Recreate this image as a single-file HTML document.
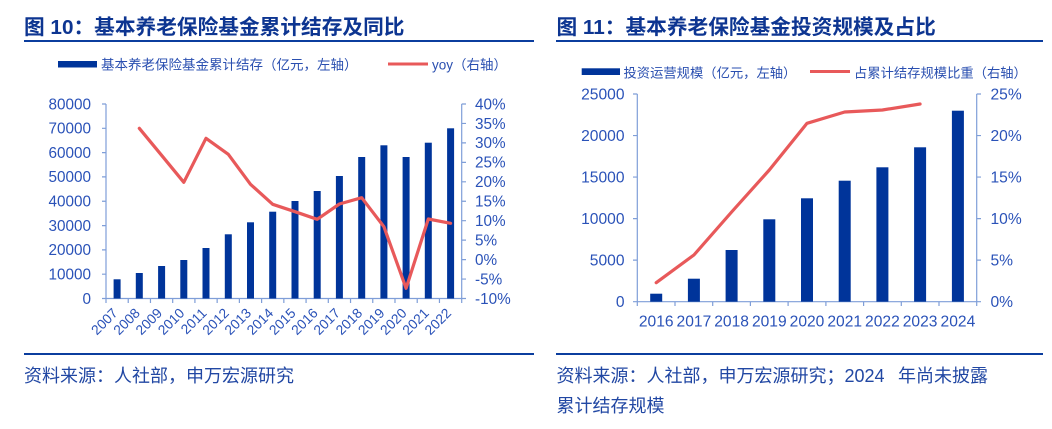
<!DOCTYPE html>
<html>
<head>
<meta charset="utf-8">
<style>
html,body{margin:0;padding:0;background:#fff;}
svg{display:block;}
text{font-family:"Liberation Sans","Noto Sans CJK SC",sans-serif;}
</style>
</head>
<body>
<svg width="1052" height="429" viewBox="0 0 1052 429" xmlns="http://www.w3.org/2000/svg">
<!-- Titles -->
<text x="24" y="34" font-size="20.7" font-weight="bold" fill="#0D3591">图 10：基本养老保险基金累计结存及同比</text>
<text x="556.5" y="34" font-size="20.7" font-weight="bold" fill="#0D3591">图 11：基本养老保险基金投资规模及占比</text>
<rect x="24" y="40" width="510" height="2" fill="#0B3D9E"/>
<rect x="556" y="40" width="487" height="2" fill="#0B3D9E"/>
<rect x="24" y="353" width="510" height="2" fill="#0B3D9E"/>
<rect x="556" y="353" width="487" height="2" fill="#0B3D9E"/>

<!-- Sources -->
<text x="24" y="382" font-size="18" fill="#2147A3">资料来源：人社部，申万宏源研究</text>
<text x="556.5" y="382" font-size="18" fill="#2147A3">资料来源：人社部，申万宏源研究；2024<tspan x="898">年尚未披露</tspan></text>
<text x="556.5" y="412" font-size="18" fill="#2147A3">累计结存规模</text>

<!-- LEFT CHART legend -->
<rect x="58" y="61" width="39" height="6.5" fill="#00349A"/>
<text x="101" y="69.5" font-size="13.5" fill="#2A4FB0">基本养老保险基金累计结存（亿元，左轴）</text>
<line x1="388" y1="64" x2="428" y2="64" stroke="#E8595A" stroke-width="3"/>
<text x="432" y="69.5" font-size="13.5" fill="#2A4FB0">yoy（右轴）</text>

<!-- LEFT CHART axes -->
<g stroke="#7F9ED8" stroke-width="1.2" fill="none">
  <line x1="106" y1="104" x2="106" y2="298.5"/>
  <line x1="461.7" y1="104" x2="461.7" y2="298.5"/>
  <line x1="106" y1="298.5" x2="461.7" y2="298.5"/>
  <path d="M102 104H106M102 128.3H106M102 152.6H106M102 176.9H106M102 201.25H106M102 225.6H106M102 249.9H106M102 274.2H106M102 298.5H106"/>
  <path d="M461.7 104H466M461.7 123.45H466M461.7 142.9H466M461.7 162.35H466M461.7 181.8H466M461.7 201.25H466M461.7 220.7H466M461.7 240.15H466M461.7 259.6H466M461.7 279.05H466M461.7 298.5H466"/>
  <path d="M106 298.5V303M128.23 298.5V303M150.46 298.5V303M172.69 298.5V303M194.92 298.5V303M217.15 298.5V303M239.38 298.5V303M261.61 298.5V303M283.84 298.5V303M306.07 298.5V303M328.3 298.5V303M350.53 298.5V303M372.76 298.5V303M394.99 298.5V303M417.22 298.5V303M439.45 298.5V303M461.7 298.5V303"/>
</g>
<g font-size="15.3" fill="#2A52B8" text-anchor="end">
  <text x="91" y="109.3">80000</text>
  <text x="91" y="133.6">70000</text>
  <text x="91" y="157.9">60000</text>
  <text x="91" y="182.2">50000</text>
  <text x="91" y="206.5">40000</text>
  <text x="91" y="230.9">30000</text>
  <text x="91" y="255.2">20000</text>
  <text x="91" y="279.5">10000</text>
  <text x="91" y="303.8">0</text>
</g>
<g font-size="15.3" fill="#2A52B8">
  <text x="475" y="109.3">40%</text>
  <text x="475" y="128.8">35%</text>
  <text x="475" y="148.2">30%</text>
  <text x="475" y="167.7">25%</text>
  <text x="475" y="187.1">20%</text>
  <text x="475" y="206.5">15%</text>
  <text x="475" y="226">10%</text>
  <text x="475" y="245.5">5%</text>
  <text x="475" y="264.9">0%</text>
  <text x="475" y="284.3">-5%</text>
  <text x="475" y="303.8">-10%</text>
</g>
<g font-size="13.8" fill="#2A52B8" text-anchor="end">
  <text transform="translate(118.6,314) rotate(-45)">2007</text>
  <text transform="translate(140.8,314) rotate(-45)">2008</text>
  <text transform="translate(163.1,314) rotate(-45)">2009</text>
  <text transform="translate(185.3,314) rotate(-45)">2010</text>
  <text transform="translate(207.5,314) rotate(-45)">2011</text>
  <text transform="translate(229.8,314) rotate(-45)">2012</text>
  <text transform="translate(252,314) rotate(-45)">2013</text>
  <text transform="translate(274.2,314) rotate(-45)">2014</text>
  <text transform="translate(296.5,314) rotate(-45)">2015</text>
  <text transform="translate(318.7,314) rotate(-45)">2016</text>
  <text transform="translate(340.9,314) rotate(-45)">2017</text>
  <text transform="translate(363.2,314) rotate(-45)">2018</text>
  <text transform="translate(385.4,314) rotate(-45)">2019</text>
  <text transform="translate(407.6,314) rotate(-45)">2020</text>
  <text transform="translate(429.8,314) rotate(-45)">2021</text>
  <text transform="translate(452.1,314) rotate(-45)">2022</text>
</g>
<g fill="#00349A">
  <rect x="113.6" y="279.3" width="7" height="19.2"/>
  <rect x="135.8" y="273" width="7" height="25.5"/>
  <rect x="158.1" y="266" width="7" height="32.5"/>
  <rect x="180.3" y="260" width="7" height="38.5"/>
  <rect x="202.5" y="248" width="7" height="50.5"/>
  <rect x="224.8" y="234.3" width="7" height="64.2"/>
  <rect x="247" y="222.3" width="7" height="76.2"/>
  <rect x="269.2" y="211.7" width="7" height="86.8"/>
  <rect x="291.5" y="201" width="7" height="97.5"/>
  <rect x="313.7" y="191" width="7" height="107.5"/>
  <rect x="335.9" y="176" width="7" height="122.5"/>
  <rect x="358.2" y="157" width="7" height="141.5"/>
  <rect x="380.4" y="145.3" width="7" height="153.2"/>
  <rect x="402.6" y="157" width="7" height="141.5"/>
  <rect x="424.8" y="142.7" width="7" height="155.8"/>
  <rect x="447.1" y="128.3" width="7" height="170.2"/>
</g>
<polyline fill="none" stroke="#E8595A" stroke-width="3.2" stroke-linejoin="round" stroke-linecap="round"
  points="139.3,128.3 161.6,155.3 183.8,182.3 206,138.3 228.3,154.3 250.5,184.3 272.7,204.3 295,211.7 317.2,219.3 339.4,204 361.7,197.7 383.9,226.7 406.1,288.3 428.3,219 450.6,223.3"/>

<!-- RIGHT CHART legend -->
<rect x="581.7" y="68.3" width="38.3" height="6.7" fill="#00349A"/>
<text x="623.5" y="77.5" font-size="13.3" fill="#2A4FB0">投资运营规模（亿元，左轴）</text>
<line x1="810" y1="71.5" x2="850" y2="71.5" stroke="#E8595A" stroke-width="3"/>
<text x="854" y="77.5" font-size="13.3" fill="#2A4FB0">占累计结存规模比重（右轴）</text>

<g stroke="#7F9ED8" stroke-width="1.2" fill="none">
  <line x1="637.3" y1="94" x2="637.3" y2="301.7"/>
  <line x1="976.7" y1="94" x2="976.7" y2="301.7"/>
  <line x1="637.3" y1="301.7" x2="976.7" y2="301.7"/>
  <path d="M633 94H637.3M633 135.54H637.3M633 177.08H637.3M633 218.62H637.3M633 260.16H637.3M633 301.7H637.3"/>
  <path d="M976.7 94H981M976.7 135.54H981M976.7 177.08H981M976.7 218.62H981M976.7 260.16H981M976.7 301.7H981"/>
  <path d="M637.3 301.7V306M675 301.7V306M712.7 301.7V306M750.4 301.7V306M788.1 301.7V306M825.9 301.7V306M863.6 301.7V306M901.3 301.7V306M939 301.7V306M976.7 301.7V306"/>
</g>
<g font-size="15.6" fill="#2A52B8" text-anchor="end">
  <text x="624.5" y="99.5">25000</text>
  <text x="624.5" y="141">20000</text>
  <text x="624.5" y="182.6">15000</text>
  <text x="624.5" y="224.1">10000</text>
  <text x="624.5" y="265.7">5000</text>
  <text x="624.5" y="307.2">0</text>
</g>
<g font-size="15.6" fill="#2A52B8">
  <text x="990.5" y="99.5">25%</text>
  <text x="990.5" y="141">20%</text>
  <text x="990.5" y="182.6">15%</text>
  <text x="990.5" y="224.1">10%</text>
  <text x="990.5" y="265.7">5%</text>
  <text x="990.5" y="307.2">0%</text>
</g>
<g font-size="15.6" fill="#2A52B8" text-anchor="middle">
  <text x="656.2" y="326.5">2016</text>
  <text x="693.9" y="326.5">2017</text>
  <text x="731.6" y="326.5">2018</text>
  <text x="769.3" y="326.5">2019</text>
  <text x="807" y="326.5">2020</text>
  <text x="844.7" y="326.5">2021</text>
  <text x="882.4" y="326.5">2022</text>
  <text x="920.1" y="326.5">2023</text>
  <text x="957.9" y="326.5">2024</text>
</g>
<g fill="#00349A">
  <rect x="650.2" y="293.7" width="12" height="8"/>
  <rect x="687.9" y="278.7" width="12" height="23"/>
  <rect x="725.6" y="250" width="12" height="51.7"/>
  <rect x="763.3" y="219.3" width="12" height="82.4"/>
  <rect x="801" y="198.3" width="12" height="103.4"/>
  <rect x="838.7" y="180.7" width="12" height="121"/>
  <rect x="876.4" y="167.3" width="12" height="134.4"/>
  <rect x="914.1" y="147.3" width="12" height="154.4"/>
  <rect x="951.9" y="110.7" width="12" height="191"/>
</g>
<polyline fill="none" stroke="#E8595A" stroke-width="3.2" stroke-linejoin="round" stroke-linecap="round"
  points="656.2,282.7 693.9,255 731.6,212 769.3,170 807,123.3 844.7,112 882.4,110 920.1,104"/>
</svg>
</body>
</html>
